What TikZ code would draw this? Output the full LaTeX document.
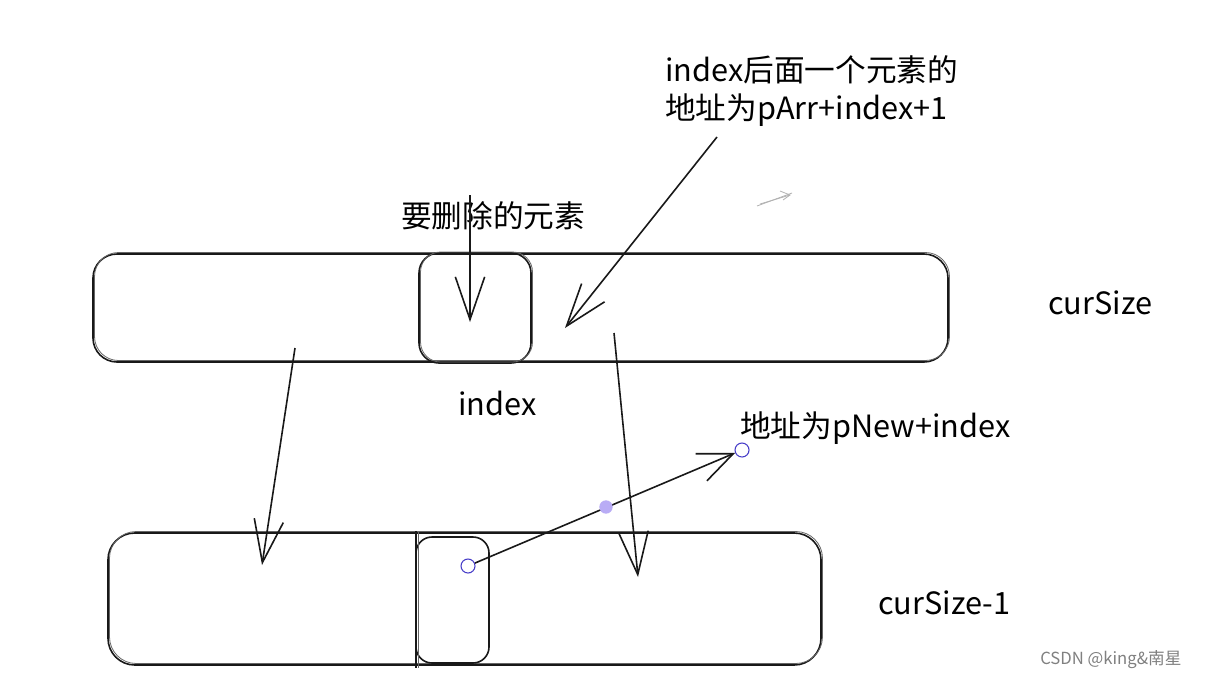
\documentclass[tikz,border=0pt]{standalone}
\usepackage{fontspec}
\newfontfamily\cjk{Noto Sans CJK SC}
\usetikzlibrary{arrows.meta}
\definecolor{dotc}{RGB}{185,172,245}
\definecolor{ringc}{RGB}{70,60,200}
\begin{document}
\begin{tikzpicture}[x=0.75pt,y=-0.75pt,
 box/.style={draw=black!90, line width=1.2pt, rounded corners=#1, inner sep=0pt},
 box2/.style={draw=black!60, line width=0.6pt, rounded corners=#1, inner sep=0pt},
 arr/.style={draw=black!90, line width=1.2pt, -{Straight Barb[length=32pt,width=22pt,line width=1.2pt]}},
 lbl/.style={font=\cjk\fontsize{23}{28}\selectfont, inner sep=0pt, anchor=west},
 pt/.style={circle, draw=ringc, fill=white, line width=0.8pt, minimum size=10.5pt, inner sep=0pt},
 mid/.style={circle, fill=dotc, minimum size=10pt, inner sep=0pt},
 wm/.style={font=\cjk\fontsize{12.5}{15}\selectfont, text=black!50, inner sep=0pt, anchor=west},
]
\useasboundingbox[fill=white] (0,0) rectangle (1212,678);

% top row
\node[box=18pt, minimum width=641.25pt, minimum height=81pt] (top) at (520.5,308) {};
\node[box2=18pt, minimum width=641.25pt, minimum height=81pt] (topb) at (522,306.5) {};
\node[box=15pt, minimum width=84pt, minimum height=82.5pt] (tin) at (475,308) {};
\node[box2=15pt, minimum width=84pt, minimum height=82.5pt] (tinb) at (476.5,307) {};

% bottom row
\node[box=20pt, minimum width=534.75pt, minimum height=99pt] (bot) at (464.5,599) {};
\node[box2=20pt, minimum width=534.75pt, minimum height=99pt] (botb) at (466,597.5) {};
\node[box=12pt, minimum width=54.75pt, minimum height=94.5pt] (bin) at (452.5,600) {};
\coordinate (vt) at (416,531);
\coordinate (vb) at (416,668);
\draw[line width=1.2pt, black!90] (vt) -- (vb);
\draw[line width=0.6pt, black!60] ([xshift=1.5pt]vt) -- ([xshift=1.5pt]vb);

% labels
\node[lbl, anchor=center] (del) at (493,216) {要删除的元素};
\node[lbl] (t1) at (665,70) {index后面一个元素的};
\node[lbl] (t2) at (665,110) {地址为pArr+index+1};
\node[lbl] (cs) at (1048,303) {curSize};
\node[lbl] (idx) at (458,403) {index};
\node[lbl] (pn) at (740,428) {地址为pNew+index};
\node[lbl] (cs1) at (878,603) {curSize-1};
\node[wm] (w) at (1040,660) {CSDN @king\&南星};

% arrows
\coordinate (a1s) at (470,195); \coordinate (a1e) at (470,322);
\draw[arr] (a1s) -- (a1e);
\coordinate (a2s) at (717,137); \coordinate (a2e) at (565,328);
\draw[arr] (a2s) -- (a2e);
\coordinate (a3s) at (295,348); \coordinate (a3e) at (262,565);
\draw[arr] (a3s) -- (a3e);
\coordinate (a4s) at (614,333); \coordinate (a4e) at (638,577);
\draw[arr] (a4s) -- (a4e);

% pointer
\node[pt] (c1) at (468,566) {};
\node[pt] (c2) at (742,450) {};
\draw[line width=1.2pt, black!90, -{Straight Barb[length=26pt,width=22pt,line width=1.2pt]}] (c1) -- (c2);
\node[mid] (m) at (606,507) {};

% small grey scribble
\draw[black!30, line width=0.6pt] (757,206) -- (792,193);
\draw[black!30, line width=0.6pt] (760,204) -- (790,195);
\draw[black!30, line width=0.6pt] (780,191) -- (790,195) -- (783,200);
\end{tikzpicture}
\end{document}
